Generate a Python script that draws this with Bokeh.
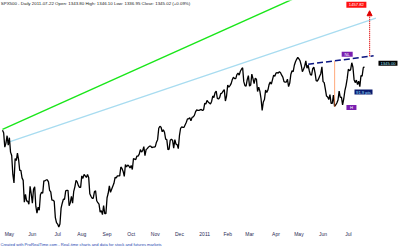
from bokeh.plotting import figure
from bokeh.models import FixedTicker, Range1d, Label, Title, Arrow, NormalHead
from bokeh.embed import file_html
from bokeh.resources import INLINE
from bokeh.core.properties import value

# trading days per month, first entry = end of Apr 2010, last = Jul 2011
month_days = [6, 20, 22, 21, 22, 21, 21, 21, 22, 20, 19, 23, 20, 21, 22, 15]
month_labels = ["May", "Jun", "Jul", "Aug", "Sep", "Oct", "Nov", "Dec",
                "2011", "Feb", "Mar", "Apr", "May", "Jun", "Jul"]

close = [
    1217, 1212, 1183, 1191, 1206, 1187,
    1202, 1173, 1166, 1128, 1111, 1160, 1156, 1171, 1158, 1136, 1136, 1121, 1116, 1072, 1088, 1074, 1074, 1068, 1104, 1089,
    1070, 1098, 1103, 1064, 1050, 1062, 1056, 1087, 1092, 1090, 1115, 1115, 1117, 1117, 1113, 1096, 1093, 1076, 1076, 1074, 1041, 1031,
    1028, 1022, 1028, 1060, 1070, 1078, 1078, 1095, 1096, 1096, 1065, 1071, 1084, 1070, 1094, 1103, 1116, 1113, 1106, 1102, 1102,
    1125, 1120, 1128, 1125, 1122, 1128, 1122, 1089, 1084, 1080, 1080, 1093, 1095, 1075, 1071, 1068, 1052, 1055, 1047, 1065, 1049, 1049,
    1081, 1090, 1105, 1092, 1098, 1104, 1110, 1122, 1121, 1125, 1125, 1125, 1143, 1140, 1134, 1124, 1148, 1143, 1147, 1145, 1141,
    1146, 1138, 1160, 1159, 1158, 1165, 1165, 1169, 1178, 1173, 1176, 1184, 1166, 1178, 1180, 1183, 1185, 1185, 1182, 1183, 1183,
    1184, 1193, 1198, 1221, 1225, 1223, 1214, 1218, 1213, 1199, 1198, 1178, 1179, 1197, 1199, 1197, 1181, 1198, 1189, 1188, 1180,
    1206, 1221, 1224, 1223, 1223, 1228, 1233, 1240, 1240, 1242, 1236, 1243, 1244, 1247, 1254, 1258, 1257, 1257, 1258, 1259, 1257, 1258,
    1271, 1270, 1277, 1274, 1272, 1270, 1275, 1286, 1283, 1293, 1296, 1281, 1280, 1283, 1291, 1292, 1296, 1299, 1276, 1286,
    1308, 1304, 1307, 1311, 1319, 1324, 1321, 1321, 1329, 1332, 1328, 1336, 1340, 1343, 1315, 1307, 1306, 1319, 1327,
    1306, 1308, 1330, 1321, 1311, 1322, 1320, 1295, 1304, 1296, 1281, 1257, 1274, 1279, 1298, 1293, 1298, 1309, 1314, 1310, 1319, 1328, 1326,
    1332, 1333, 1332, 1335, 1333, 1328, 1324, 1315, 1314, 1314, 1320, 1305, 1312, 1330, 1337, 1335, 1348, 1355, 1360, 1364,
    1361, 1357, 1348, 1335, 1340, 1346, 1357, 1342, 1348, 1337, 1329, 1328, 1341, 1344, 1333, 1317, 1316, 1320, 1326, 1331, 1345,
    1315, 1313, 1300, 1286, 1284, 1279, 1289, 1271, 1271, 1288, 1265, 1268, 1272, 1278, 1296, 1283, 1284, 1268, 1280, 1297, 1307, 1321,
    1340, 1337, 1339, 1353, 1344, 1319, 1313, 1318, 1309, 1316, 1305, 1327, 1326, 1343, 1345,
]

# trend lines (bar index, price)
green_pts_x = [0, 173]
green_pts_y = [1219, 1398.6]
blue_pts_x = [4, 325]
blue_pts_y = [1192, 1443]
neck_x = [266, 323]
neck_y = [1350, 1367]
target_bar = 319.5

header = "SPX500 - Daily 2011-07-22 Open: 1343.80 High: 1346.10 Low: 1336.95 Close: 1345.02 (+0.09%)"
footer = "Created with ProRealTime.com - Real-time charts and data for stock and futures markets"

FONT = "Liberation Sans"

idx = list(range(len(close)))
ticks = []
s = 0
for d in month_days[:-1]:
    s += d
    ticks.append(s)

p = figure(width=400, height=246,
           x_range=Range1d(-1.74, 346.4), y_range=Range1d(1017, 1478.5),
           output_backend="svg", toolbar_location=None, y_axis_location=None,
           min_border=0, min_border_left=0, min_border_right=0, min_border_top=0, min_border_bottom=0)
p.grid.visible = False
p.outline_line_color = None
p.background_fill_color = "white"

ax = p.xaxis[0]
ax.ticker = FixedTicker(ticks=ticks)
ax.major_label_overrides = {t: l for t, l in zip(ticks, month_labels)}
ax.axis_line_color = None
ax.major_tick_line_color = None
ax.minor_tick_line_color = None
ax.major_tick_out = 0
ax.major_tick_in = 0
ax.major_label_standoff = 1
ax.major_label_text_font_size = "5px"
ax.major_label_text_align = "left"
ax.major_label_text_color = "#2a2a55"
ax.major_label_text_font = FONT

p.add_layout(Title(text=footer, text_font_size="4.1px", text_color="#2346b0", standoff=0,
                   align="left", text_font_style="normal", text_font=FONT), "below")

def line_at(xs, ys, x):
    return ys[0] + (ys[1] - ys[0]) * (x - xs[0]) / (xs[1] - xs[0])

# channel lines
gx = [green_pts_x[0], 346]
p.line(gx, [line_at(green_pts_x, green_pts_y, x) for x in gx], color="#19e619", line_width=1.4)
p.line(blue_pts_x, blue_pts_y, color="#a8dcf0", line_width=1.4)

# price
p.line(idx, close, color="black", line_width=1.3)

# head & shoulders construction
j0 = len(close) - month_days[-1] - month_days[-2]
head_i = min(range(j0, j0 + month_days[-2]), key=lambda i: close[i])
head_v = close[head_i]
neck_at_head = line_at(neck_x, neck_y, head_i)
neck_at_t = line_at(neck_x, neck_y, target_bar)
target = neck_at_t + (neck_at_head - head_v)

p.line(neck_x, neck_y, color="#0a1580", line_width=1.5, line_dash="6 3")
p.segment(x0=[head_i], y0=[head_v], x1=[head_i], y1=[neck_at_head],
          line_color="#ff6a1a", line_width=1.2, line_dash="1 1")
p.add_layout(Arrow(x_start=target_bar, y_start=neck_at_t, x_end=target_bar, y_end=target,
                   line_color="#e00000", line_width=1.2, line_dash="1 1",
                   end=NormalHead(size=5, fill_color="#e00000", line_color="#e00000")))

def box(x, y, w, h, fill, txt, tcolor):
    p.rect(x=[x], y=[y], width=w, height=h, width_units="screen", height_units="screen",
           fill_color=fill, line_color=None)
    p.text(x=[x], y=[y], text=[txt], text_font=value(FONT), text_font_size="4.2px",
           text_color=tcolor, text_align="center", text_baseline="middle")

box(308, target + 12, 20, 6, "#ff1010", "%.2f" % target, "white")
box(300, neck_y[1] + 3, 11, 5, "#7a1fb0", "NL", "white")
box(303.7, head_v - 2, 10, 5, "#7a1fb0", "H", "white")
box(314.2, 1294, 18, 5, "#0a1a6e", "%.1f pts" % (neck_at_head - head_v), "#9fe0ff")
box(335.5, close[-1] + 7, 19, 5, "black", "%.2f" % close[-1], "#9fe0ff")

p.add_layout(Label(x=-1.5, y=1477.5, text=header, text_baseline="top", text_align="left",
                   text_font_size="4.4px", text_color="#202020", text_font=FONT))

open("out.html", "w").write(file_html(p, INLINE))
